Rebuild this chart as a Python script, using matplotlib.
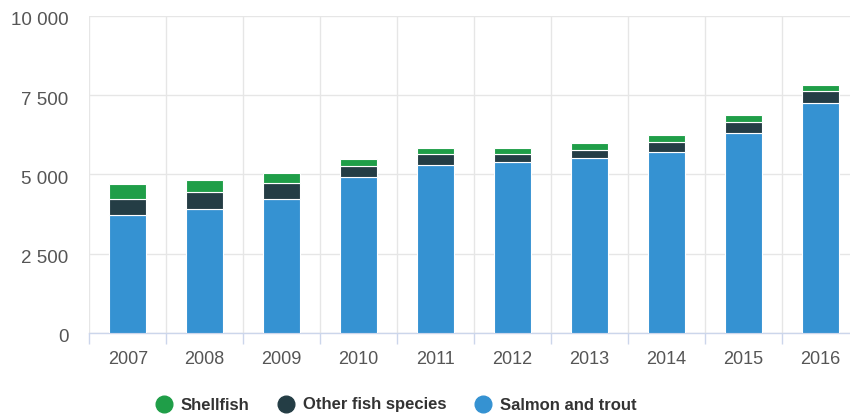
import matplotlib
matplotlib.use("Agg")
import matplotlib.pyplot as plt
from matplotlib.lines import Line2D
from matplotlib.ticker import FuncFormatter
from matplotlib.transforms import ScaledTranslation
import numpy as np

years = ["2007", "2008", "2009", "2010", "2011", "2012", "2013", "2014", "2015", "2016"]
salmon = [3715, 3895, 4220, 4925, 5305, 5390, 5515, 5705, 6315, 7240]
other = [495, 535, 495, 345, 335, 250, 260, 315, 345, 390]
shellfish = [475, 380, 335, 205, 190, 190, 200, 230, 200, 190]
series_names = ["Shellfish", "Other fish species", "Salmon and trout"]
y_ticks = [0, 2500, 5000, 7500, 10000]

c_shell = "#1f9e48"
c_other = "#243d45"
c_salmon = "#3592d2"

plt.rcParams["font.family"] = ["Liberation Sans", "DejaVu Sans"]

fig = plt.figure(figsize=(8.5, 4.17), dpi=100)
ax = fig.add_axes([89.3 / 850, 1 - 332.7 / 417, (858.6 - 89.3) / 850, (332.7 - 16) / 417])

x = np.arange(len(years))
w = 0.48
kw = dict(width=w, edgecolor="white", linewidth=0.8, zorder=3)
ax.bar(x, salmon, color=c_salmon, **kw)
ax.bar(x, other, bottom=salmon, color=c_other, **kw)
bot2 = np.array(salmon) + np.array(other)
ax.bar(x, shellfish, bottom=bot2, color=c_shell, **kw)

ax.set_xlim(-0.5, len(years) - 0.5)
ax.set_ylim(0, 10000)
ax.set_yticks(y_ticks)
ax.yaxis.set_major_formatter(FuncFormatter(lambda v, p: f"{int(v):,}".replace(",", " ")))
ax.set_xticks(x)
ax.set_xticklabels(years)
ax.set_xticks(np.arange(-0.5, len(years), 1.0), minor=True)

ax.grid(axis="y", color="#e6e6e6", linewidth=1.0, zorder=0)
ax.grid(axis="x", which="minor", color="#e6e6e6", linewidth=1.0, zorder=0)
ax.grid(axis="x", which="major", visible=False)

for s in ["top", "right", "left"]:
    ax.spines[s].set_visible(False)
ax.spines["bottom"].set_color("#ccd6eb")
ax.spines["bottom"].set_linewidth(1.0)

ax.tick_params(axis="y", length=0, pad=15, labelsize=13.5, labelcolor="#555555")
ax.tick_params(axis="x", which="major", length=0, pad=13, labelsize=13, labelcolor="#555555")
ax.tick_params(axis="x", which="minor", length=8, width=1.0, color="#ccd6eb")

off = ScaledTranslation(0, -3 / 100, fig.dpi_scale_trans)
for lab in ax.get_yticklabels():
    lab.set_transform(lab.get_transform() + off)

handles = [
    Line2D([], [], marker="o", linestyle="none", markersize=12, color=c_shell),
    Line2D([], [], marker="o", linestyle="none", markersize=12, color=c_other),
    Line2D([], [], marker="o", linestyle="none", markersize=12, color=c_salmon),
]
leg = fig.legend(handles, series_names, loc="center", bbox_to_anchor=(396 / 850, 1 - 405 / 417),
                 ncol=3, frameon=False, handlelength=1.0, handletextpad=0.5,
                 columnspacing=1.7, prop={"weight": "bold", "size": 12})
for t in leg.get_texts():
    t.set_color("#333333")

fig.savefig("out.png", dpi=100)
